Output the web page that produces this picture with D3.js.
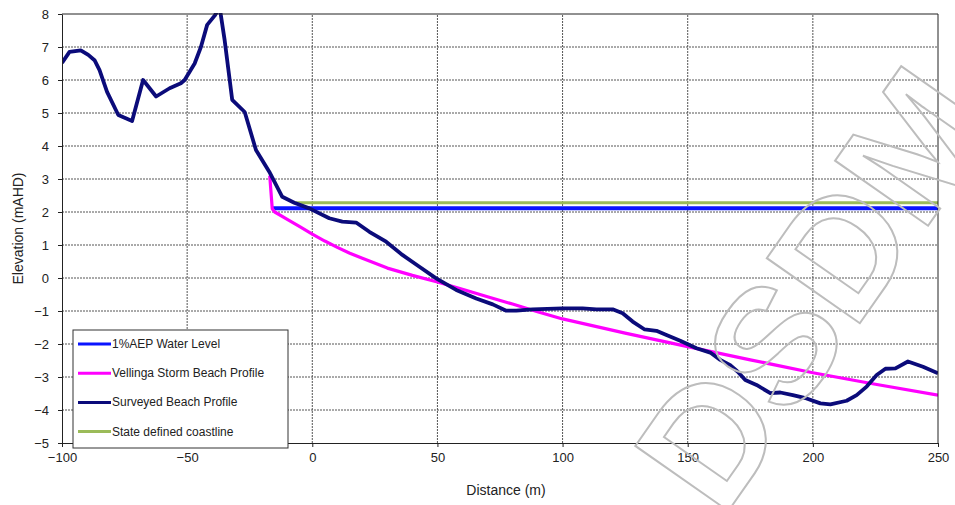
<!DOCTYPE html>
<html>
<head>
<meta charset="utf-8">
<script src="https://cdn.jsdelivr.net/npm/d3@7"></script>
<style>
  body { margin: 0; background: #fff; }
  svg { display: block; font-family: Arial, "Liberation Sans", sans-serif; }
  .grid line { stroke: #555; stroke-width: 1; stroke-dasharray: 2,1; }
  .axis path, .axis line { stroke: #222; }
  .axis text { font-size: 13px; fill: #222; }
</style>
</head>
<body>
<svg id="chart"></svg>
<script>
// Surveyed beach profile (distance m, elevation mAHD)
const surveyX = [-100, -97, -92.5, -89.5, -87, -85, -82, -77.5, -72, -67.6, -62.4, -57, -52.5, -51, -47, -44.5, -42, -39, -37, -35, -32, -27, -22.5, -17.2, -12, -7.2, -1.2, 6.8, 12, 17.5, 22.8, 29.5, 36, 42.8, 49.5, 57.5, 65.5, 72.1, 77.5, 81.5, 88, 100, 108, 113.5, 120, 124, 128, 132.8, 137.5, 141.5, 147, 153.5, 159, 163, 167, 170, 173, 177.5, 183, 187, 192, 197.5, 203, 207, 213.5, 217.5, 221.5, 225.5, 229, 233, 238, 244, 250];
const surveyY = [6.52, 6.85, 6.9, 6.76, 6.6, 6.3, 5.64, 4.94, 4.76, 6.0, 5.5, 5.75, 5.9, 6.0, 6.5, 7.0, 7.67, 7.95, 8.2, 7.2, 5.4, 5.03, 3.88, 3.22, 2.46, 2.28, 2.11, 1.81, 1.71, 1.68, 1.4, 1.1, 0.7, 0.34, -0.01, -0.36, -0.62, -0.8, -0.99, -0.99, -0.95, -0.92, -0.92, -0.95, -0.95, -1.07, -1.32, -1.56, -1.6, -1.73, -1.9, -2.13, -2.26, -2.48, -2.64, -2.84, -3.09, -3.24, -3.49, -3.47, -3.55, -3.65, -3.8, -3.83, -3.72, -3.55, -3.29, -2.94, -2.75, -2.74, -2.53, -2.69, -2.89];

// Vellinga storm beach profile
const vellX = [-17, -16, -15, -10, -5, 0, 5, 10, 15, 20, 30, 40, 50, 60, 70, 80, 90, 100, 125, 150, 175, 200, 225, 250];
const vellY = [3.1, 2.1, 2.0, 1.78, 1.56, 1.33, 1.12, 0.93, 0.75, 0.6, 0.3, 0.08, -0.12, -0.34, -0.57, -0.79, -1.02, -1.24, -1.67, -2.08, -2.48, -2.87, -3.22, -3.55];

// Horizontal levels
const aepX = [-16, 250], aepY = [2.11, 2.11];
const coastX = [-7, 250], coastY = [2.28, 2.28];

const xTicks = [-100, -50, 0, 50, 100, 150, 200, 250];
const yTicks = [-5, -4, -3, -2, -1, 0, 1, 2, 3, 4, 5, 6, 7, 8];

const series = [
  { name: '1%AEP Water Level', x: aepX, y: aepY, color: '#0a14ff', width: 4 },
  { name: 'Vellinga Storm Beach Profile', x: vellX, y: vellY, color: '#ff00ff', width: 3.2 },
  { name: 'Surveyed Beach Profile', x: surveyX, y: surveyY, color: '#0b0b7a', width: 3.8 },
  { name: 'State defined coastline', x: coastX, y: coastY, color: '#9bbb59', width: 3 }
];
const drawOrder = [3, 0, 1, 2];

const W = 955, H = 505;
const margin = { left: 62, right: 17, top: 14, bottom: 62 };
const svg = d3.select('#chart').attr('width', W).attr('height', H);

const x = d3.scaleLinear().domain([-100, 250]).range([margin.left, W - margin.right]);
const y = d3.scaleLinear().domain([-5, 8]).range([H - margin.bottom, margin.top]);

// gridlines
const grid = svg.append('g').attr('class', 'grid');
grid.selectAll('.h').data(yTicks.slice(1, -1)).enter().append('line')
  .attr('x1', x(-100)).attr('x2', x(250))
  .attr('y1', d => y(d)).attr('y2', d => y(d));
grid.selectAll('.v').data(xTicks.slice(1, -1)).enter().append('line')
  .attr('y1', y(-5)).attr('y2', y(8))
  .attr('x1', d => x(d)).attr('x2', d => x(d));

// clip
svg.append('clipPath').attr('id', 'plot').append('rect')
  .attr('x', x(-100)).attr('y', y(8) - 1)
  .attr('width', x(250) - x(-100)).attr('height', y(-5) - y(8) + 1);

const line = d3.line().x(d => x(d[0])).y(d => y(d[1]));
const lines = svg.append('g').attr('clip-path', 'url(#plot)');
drawOrder.forEach(i => {
  const s = series[i];
  lines.append('path')
    .datum(s.x.map((v, k) => [v, s.y[k]]))
    .attr('d', line)
    .attr('fill', 'none')
    .attr('stroke', s.color)
    .attr('stroke-width', s.width)
    .attr('stroke-linejoin', 'round');
});

// frame
svg.append('line').attr('x1', x(-100)).attr('x2', x(250)).attr('y1', y(8)).attr('y2', y(8))
  .attr('stroke', '#222');
svg.append('line').attr('x1', x(250)).attr('x2', x(250)).attr('y1', y(8)).attr('y2', y(-5))
  .attr('stroke', '#222');

// axes
svg.append('g').attr('class', 'axis')
  .attr('transform', `translate(0,${y(-5)})`)
  .call(d3.axisBottom(x).tickValues(xTicks).tickSize(4).tickPadding(6).tickSizeOuter(0));
svg.append('g').attr('class', 'axis')
  .attr('transform', `translate(${x(-100)},0)`)
  .call(d3.axisLeft(y).tickValues(yTicks).tickSize(4).tickPadding(9).tickSizeOuter(0));

svg.append('text').attr('x', 506).attr('y', 495).attr('text-anchor', 'middle')
  .attr('font-size', 14).attr('fill', '#222').text('Distance (m)');
svg.append('text').attr('transform', `translate(23,${(y(8) + y(-5)) / 2}) rotate(-90)`)
  .attr('text-anchor', 'middle').attr('font-size', 14).attr('fill', '#222')
  .text('Elevation (mAHD)');

// legend
const lg = svg.append('g').attr('transform', 'translate(73,330)');
lg.append('rect').attr('width', 215).attr('height', 118)
  .attr('fill', '#fff').attr('stroke', '#333').attr('stroke-width', 1);
series.forEach((s, i) => {
  const ly = 14 + i * 29.2;
  lg.append('line').attr('x1', 5).attr('x2', 38).attr('y1', ly).attr('y2', ly)
    .attr('stroke', s.color).attr('stroke-width', 3);
  lg.append('text').attr('x', 39).attr('y', ly + 4).attr('font-size', 12)
    .attr('fill', '#222').text(s.name);
});

// watermark
svg.append('text')
  .attr('transform', 'translate(722,520) rotate(-55)')
  .attr('font-size', 165).attr('font-weight', 'bold')
  .attr('font-family', 'Arial, sans-serif')
  .attr('fill', 'none').attr('stroke', '#bdbdbd').attr('stroke-width', 2)
  .text('DSDM');
</script>
</body>
</html>
